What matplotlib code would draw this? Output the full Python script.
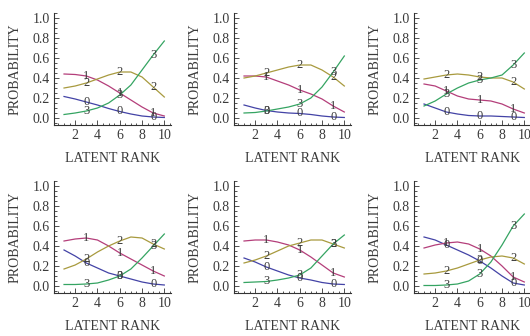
import matplotlib
matplotlib.use("Agg")
import matplotlib.pyplot as plt
from matplotlib.ticker import MultipleLocator, FormatStrFormatter

ranks = [1, 2, 3, 4, 5, 6, 7, 8, 9, 10]
categories = ["0", "1", "2", "3"]
label_ranks = [3, 6, 9]

p1_c0 = [0.215, 0.19, 0.16, 0.13, 0.095, 0.065, 0.04, 0.02, 0.01, 0.005]
p1_c1 = [0.44, 0.435, 0.42, 0.38, 0.32, 0.25, 0.18, 0.11, 0.05, 0.02]
p1_c2 = [0.30, 0.32, 0.35, 0.39, 0.43, 0.46, 0.46, 0.41, 0.31, 0.21]
p1_c3 = [0.035, 0.05, 0.07, 0.10, 0.15, 0.23, 0.33, 0.48, 0.63, 0.77]

p2_c0 = [0.13, 0.10, 0.075, 0.06, 0.05, 0.045, 0.035, 0.02, 0.01, 0.005]
p2_c1 = [0.42, 0.42, 0.41, 0.37, 0.33, 0.28, 0.24, 0.19, 0.12, 0.06]
p2_c2 = [0.40, 0.42, 0.45, 0.48, 0.51, 0.53, 0.53, 0.48, 0.41, 0.32]
p2_c3 = [0.05, 0.055, 0.07, 0.09, 0.11, 0.14, 0.20, 0.31, 0.46, 0.62]

p3_c0 = [0.14, 0.10, 0.06, 0.04, 0.025, 0.02, 0.02, 0.015, 0.01, 0.005]
p3_c1 = [0.34, 0.32, 0.27, 0.22, 0.19, 0.18, 0.17, 0.14, 0.09, 0.05]
p3_c2 = [0.39, 0.41, 0.43, 0.44, 0.43, 0.41, 0.40, 0.40, 0.36, 0.29]
p3_c3 = [0.12, 0.17, 0.24, 0.30, 0.35, 0.38, 0.40, 0.43, 0.53, 0.65]

p4_c0 = [0.36, 0.30, 0.23, 0.18, 0.13, 0.10, 0.07, 0.04, 0.02, 0.01]
p4_c1 = [0.45, 0.47, 0.48, 0.46, 0.40, 0.33, 0.27, 0.21, 0.15, 0.10]
p4_c2 = [0.17, 0.21, 0.27, 0.34, 0.40, 0.45, 0.49, 0.48, 0.42, 0.37]
p4_c3 = [0.015, 0.015, 0.02, 0.03, 0.06, 0.10, 0.17, 0.28, 0.40, 0.52]

p5_c0 = [0.28, 0.24, 0.19, 0.15, 0.11, 0.08, 0.06, 0.035, 0.02, 0.015]
p5_c1 = [0.45, 0.46, 0.46, 0.44, 0.41, 0.36, 0.29, 0.21, 0.13, 0.09]
p5_c2 = [0.23, 0.26, 0.30, 0.35, 0.40, 0.43, 0.46, 0.46, 0.42, 0.38]
p5_c3 = [0.035, 0.04, 0.045, 0.06, 0.08, 0.11, 0.18, 0.30, 0.42, 0.51]

p6_c0 = [0.49, 0.46, 0.41, 0.36, 0.31, 0.25, 0.18, 0.10, 0.03, 0.01]
p6_c1 = [0.38, 0.41, 0.43, 0.44, 0.42, 0.37, 0.30, 0.20, 0.09, 0.04]
p6_c2 = [0.12, 0.13, 0.15, 0.18, 0.22, 0.26, 0.29, 0.30, 0.28, 0.22]
p6_c3 = [0.005, 0.005, 0.01, 0.02, 0.05, 0.12, 0.24, 0.41, 0.60, 0.72]

panels = [
    [p1_c0, p1_c1, p1_c2, p1_c3],
    [p2_c0, p2_c1, p2_c2, p2_c3],
    [p3_c0, p3_c1, p3_c2, p3_c3],
    [p4_c0, p4_c1, p4_c2, p4_c3],
    [p5_c0, p5_c1, p5_c2, p5_c3],
    [p6_c0, p6_c1, p6_c2, p6_c3],
]

colors = ["#4343a6", "#b43e7a", "#a89a3e", "#35a462"]
text_color = "#3a3a3a"
axis_color = "#333333"

plt.rcParams["font.family"] = ["Liberation Serif", "DejaVu Serif"]

W, H = 530, 336
fig = plt.figure(figsize=(W / 100, H / 100), dpi=100)

lefts = [54, 234, 414]
bottoms = [125, 293]
aw, ah = 117, 112

for i, series in enumerate(panels):
    r, c = divmod(i, 3)
    x0 = lefts[c]
    yb = bottoms[r]
    ax = fig.add_axes([x0 / W, (H - yb) / H, aw / W, ah / H])
    ax.set_xlim(0.1, 10.6)
    ax.set_ylim(-0.07, 1.05)
    for k, vals in enumerate(series):
        ax.plot(ranks, vals, color=colors[k], lw=0.9, solid_joinstyle="round")
        for lr in label_ranks:
            ax.text(lr, vals[ranks.index(lr)], categories[k], ha="center",
                    va="center", fontsize=9, color=text_color)
    for s in ["top", "right"]:
        ax.spines[s].set_visible(False)
    for s in ["left", "bottom"]:
        ax.spines[s].set_color(axis_color)
        ax.spines[s].set_linewidth(0.8)
    ax.xaxis.set_major_locator(MultipleLocator(2))
    ax.xaxis.set_minor_locator(MultipleLocator(0.5))
    ax.yaxis.set_major_locator(MultipleLocator(0.2))
    ax.yaxis.set_minor_locator(MultipleLocator(0.05))
    ax.yaxis.set_major_formatter(FormatStrFormatter("%.1f"))
    ax.tick_params(which="both", direction="in", color=axis_color,
                   labelcolor=text_color, labelsize=10, width=0.6)
    ax.tick_params(which="major", length=3.5, pad=3)
    ax.tick_params(which="minor", length=1.8)
    ax.set_xticks([2, 4, 6, 8, 10])
    ax.text(0.5, -33 / ah, "LATENT RANK", transform=ax.transAxes,
            ha="center", va="center", fontsize=10, color=text_color)
    ax.text(-39 / aw, 0.5, "PROBABILITY", transform=ax.transAxes,
            ha="center", va="center", rotation=90, fontsize=10,
            color=text_color)
    ax.patch.set_alpha(0)

fig.savefig("out.png", dpi=100)
